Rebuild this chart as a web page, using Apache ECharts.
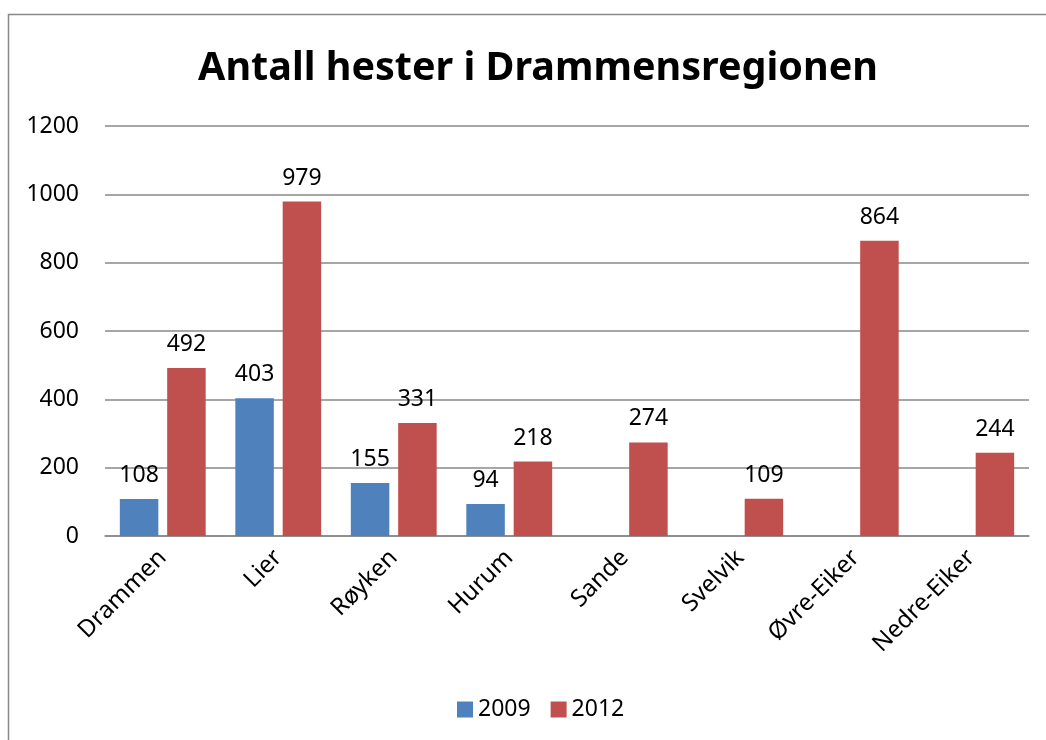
<!DOCTYPE html>
<html>
<head>
<meta charset="utf-8">
<script src="https://cdn.jsdelivr.net/npm/echarts@6/dist/echarts.min.js"></script>
<style>html,body{margin:0;padding:0;background:#fff}#c{width:1046px;height:740px}</style>
</head>
<body>
<div id="c"></div>
<script>
const categories = ['Drammen', 'Lier', 'Røyken', 'Hurum', 'Sande', 'Svelvik', 'Øvre-Eiker', 'Nedre-Eiker'];
const values2009 = [108, 403, 155, 94, null, null, null, null];
const values2012 = [492, 979, 331, 218, 274, 109, 864, 244];
const seriesNames = ['2009', '2012'];
const yTicks = { min: 0, max: 1200, interval: 200 };

const font = '"Noto Sans", "Liberation Sans", sans-serif';
const chart = echarts.init(document.getElementById('c'), null, { renderer: 'canvas' });
chart.setOption({
  animation: false,
  backgroundColor: '#fff',
  title: {
    text: 'Antall hester i Drammensregionen',
    left: 533, textAlign: 'center', top: 44,
    textStyle: { fontFamily: font, fontSize: 39.5, fontWeight: 'bold', color: '#000' }
  },
  graphic: [{
    type: 'rect', shape: { x: 8.5, y: 14.5, width: 1100, height: 800 },
    style: { fill: 'none', stroke: '#898989', lineWidth: 1.5 }, z: 100
  }],
  legend: {
    bottom: 14, left: 452, itemWidth: 16, itemHeight: 16, itemGap: 20,
    icon: 'rect',
    textStyle: { fontFamily: font, fontSize: 23, color: '#000' },
    data: seriesNames
  },
  grid: { left: 105, right: 17, top: 126, bottom: 204, containLabel: false },
  xAxis: {
    type: 'category', data: categories,
    axisLine: { lineStyle: { color: '#888', width: 1.5 } },
    axisTick: { show: false },
    axisLabel: { rotate: 45, margin: 18, interval: 0, fontFamily: font, fontSize: 24, color: '#000' }
  },
  yAxis: {
    type: 'value', min: yTicks.min, max: yTicks.max, interval: yTicks.interval,
    axisLine: { show: false }, axisTick: { show: false },
    splitLine: { lineStyle: { color: '#888', width: 1.5 } },
    axisLabel: { margin: 26, fontFamily: font, fontSize: 23, color: '#000', formatter: v => String(v) }
  },
  series: [
    {
      name: seriesNames[0], type: 'bar', data: values2009, barWidth: 38.5, barGap: '23%',
      itemStyle: { color: '#4F81BD' },
      label: { show: true, position: 'top', distance: 12, fontFamily: font, fontSize: 23, color: '#000' }
    },
    {
      name: seriesNames[1], type: 'bar', data: values2012, barWidth: 38.5, barGap: '23%',
      itemStyle: { color: '#C0504D' },
      label: { show: true, position: 'top', distance: 12, fontFamily: font, fontSize: 23, color: '#000' }
    }
  ]
});
</script>
</body>
</html>
